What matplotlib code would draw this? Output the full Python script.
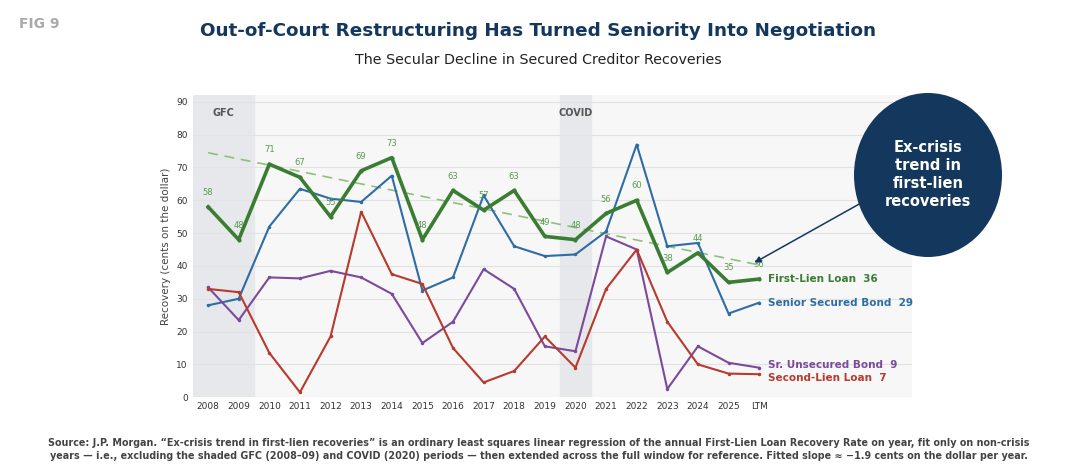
import matplotlib
matplotlib.use("Agg")
import matplotlib.pyplot as plt
import numpy as np
from matplotlib.patches import Ellipse, FancyArrowPatch

years = [str(y) for y in range(2008, 2026)] + ["LTM"]
first_lien = [58, 48, 71, 67, 55, 69, 73, 48, 63, 57, 63, 49, 48, 56, 60, 38, 44, 35, 36]
senior_sec = [28, 30, 52, 63.5, 60.5, 59.5, 67.5, 32.5, 36.5, 61.5, 46, 43, 43.5, 50.5, 77, 46, 47, 25.5, 28.8]
sr_unsec = [33.5, 23.5, 36.5, 36.2, 38.5, 36.5, 31.5, 16.5, 23, 39, 33, 15.5, 14, 49, 45, 2.5, 15.5, 10.5, 9]
second_lien = [33, 32, 13.5, 1.5, 18.5, 56.5, 37.5, 34.5, 15, 4.5, 8, 18.5, 9, 33, 45, 23, 10, 7.2, 7]
trend_start, trend_slope = 74.5, -1.9

GREEN = "#3a7d32"
BLUE = "#2e6da4"
PURPLE = "#7b4a9a"
RED = "#b73a2e"
NAVY = "#14375e"
BG = "#f7f7f7"

fig = plt.figure(figsize=(10.77, 4.74), dpi=100)
fig.patch.set_facecolor("white")
ax = fig.add_axes([0.179, 0.162, 0.668, 0.637])
ax.set_facecolor(BG)
x = np.arange(len(years))

ax.axvspan(-0.5, 1.5, color="#e6e8eb", zorder=0)
ax.axvspan(11.5, 12.5, color="#e6e8eb", zorder=0)
ax.text(0.5, 88, "GFC", ha="center", va="top", fontsize=7, fontweight="bold", color="#555")
ax.text(12, 88, "COVID", ha="center", va="top", fontsize=7, fontweight="bold", color="#555")

ax.plot(x, trend_start + trend_slope * x, ls=(0, (6, 4)), color="#8fbf7f", lw=1.2, zorder=2)
ax.plot(x, senior_sec, color=BLUE, lw=1.5, marker="o", ms=1.5, zorder=3)
ax.plot(x, sr_unsec, color=PURPLE, lw=1.5, marker="o", ms=1.5, zorder=3)
ax.plot(x, second_lien, color=RED, lw=1.5, marker="o", ms=1.5, zorder=3)
ax.plot(x, first_lien, color=GREEN, lw=2.6, marker="o", ms=2, zorder=4)
for xi, v in zip(x, first_lien):
    ax.text(xi, v + 3, f"{v:.0f}", ha="center", va="bottom", fontsize=6, color="#5a9a50", zorder=5)

lx = x[-1] + 0.3
ax.text(lx, first_lien[-1], f"First-Lien Loan  {first_lien[-1]:.0f}", color=GREEN, fontsize=7.5, fontweight="bold", va="center")
ax.text(lx, senior_sec[-1], f"Senior Secured Bond  {senior_sec[-1]:.0f}", color=BLUE, fontsize=7.5, fontweight="bold", va="center")
ax.text(lx, sr_unsec[-1] + 0.8, f"Sr. Unsecured Bond  {sr_unsec[-1]:.0f}", color=PURPLE, fontsize=7.5, fontweight="bold", va="center")
ax.text(lx, second_lien[-1] - 1.2, f"Second-Lien Loan  {second_lien[-1]:.0f}", color=RED, fontsize=7.5, fontweight="bold", va="center")

ax.set_xlim(-0.5, 23)
ax.set_ylim(0, 92)
ax.set_xticks(x)
ax.set_xticklabels(years)
ax.set_yticks(range(0, 91, 10))
ax.tick_params(labelsize=6.5, length=0, colors="#333")
ax.grid(axis="y", color="#e2e2e2", lw=0.8)
ax.set_axisbelow(True)
for s in ax.spines.values():
    s.set_visible(False)
ax.set_ylabel("Recovery (cents on the dollar)", fontsize=7.5, color="#444")

fig.text(0.018, 0.95, "FIG 9", fontsize=10, fontweight="bold", color="#aaaaaa", va="center")
fig.text(0.5, 0.935, "Out-of-Court Restructuring Has Turned Seniority Into Negotiation",
         ha="center", va="center", fontsize=13.2, fontweight="bold", color=NAVY)
fig.text(0.5, 0.873, "The Secular Decline in Secured Creditor Recoveries",
         ha="center", va="center", fontsize=10.3, color="#222")

ell = Ellipse((928 / 1077, 1 - 175 / 474), 148 / 1077, 164 / 474, transform=fig.transFigure,
              fc=NAVY, ec="none")
fig.add_artist(ell)
fig.text(928 / 1077, 1 - 175 / 474, "Ex-crisis\ntrend in\nfirst-lien\nrecoveries", ha="center",
         va="center", fontsize=10.5, fontweight="bold", color="white", linespacing=1.25)
arr = FancyArrowPatch((870 / 1077, 1 - 198 / 474), (752 / 1077, 1 - 264 / 474), transform=fig.transFigure,
                      arrowstyle="-|>", mutation_scale=9, lw=1.1, color=NAVY)
fig.add_artist(arr)

fig.text(0.5, 0.052,
         "Source: J.P. Morgan. \u201cEx-crisis trend in first-lien recoveries\u201d is an ordinary least squares linear regression of the annual First-Lien Loan Recovery Rate on year, fit only on non-crisis\n"
         "years \u2014 i.e., excluding the shaded GFC (2008\u201309) and COVID (2020) periods \u2014 then extended across the full window for reference. Fitted slope \u2248 \u22121.9 cents on the dollar per year.",
         ha="center", va="center", fontsize=6.9, fontweight="bold", color="#444", linespacing=1.4)

fig.savefig("out.png", dpi=100)
